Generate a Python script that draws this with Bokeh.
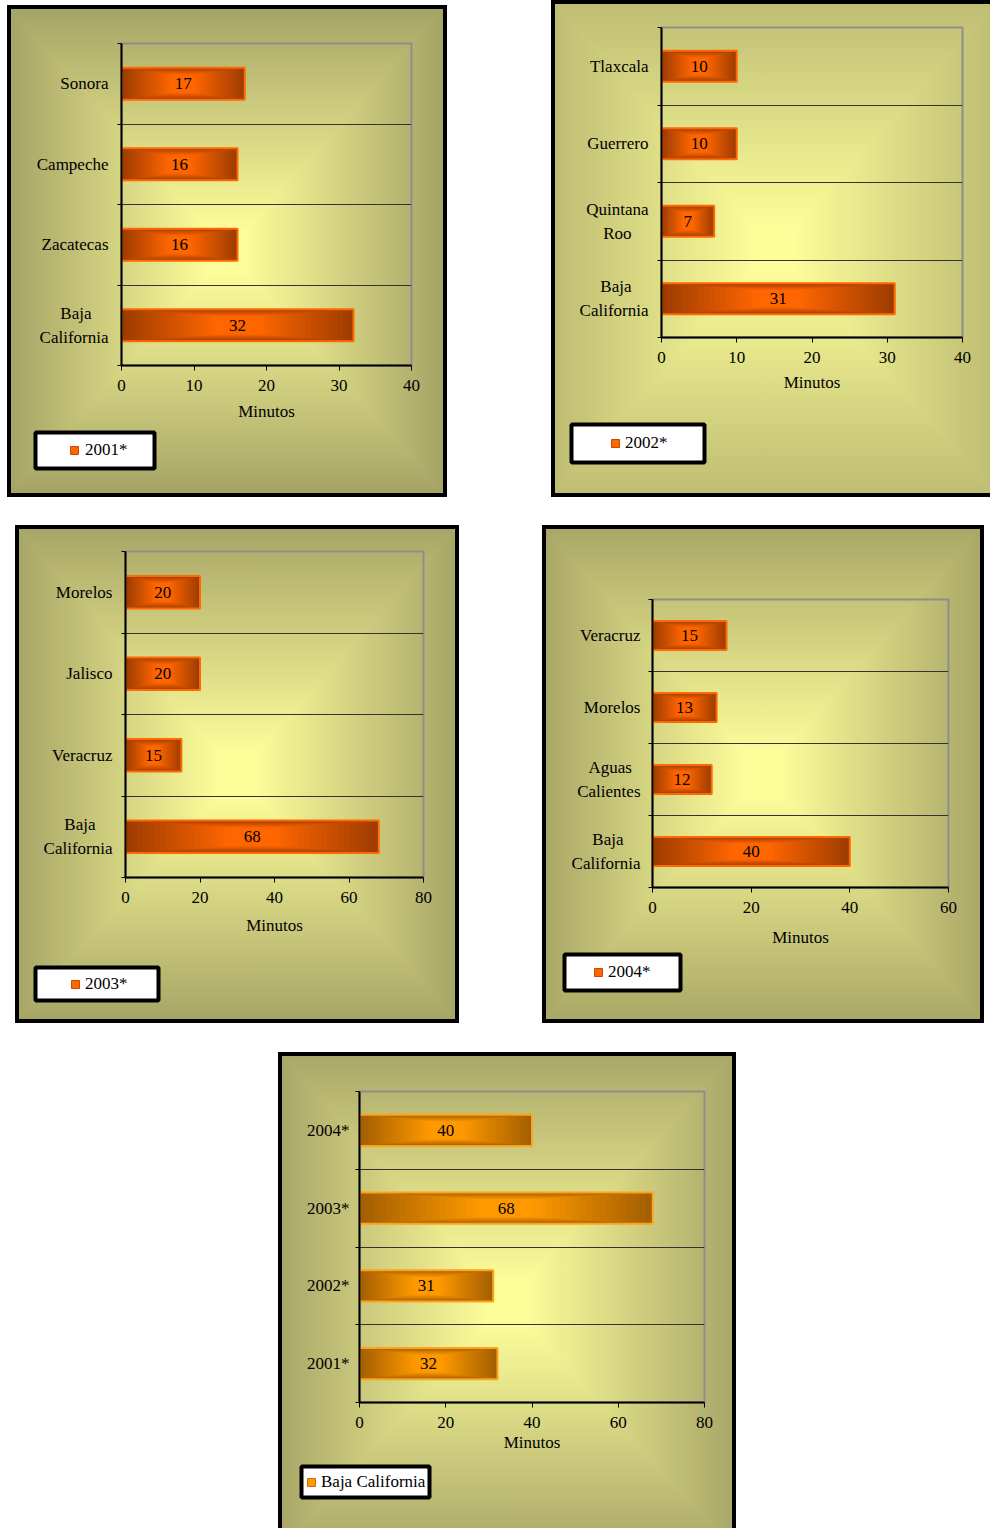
from urllib.parse import quote

import numpy as np
from bokeh.core.properties import value
from bokeh.embed import file_html
from bokeh.layouts import column, row
from bokeh.models import ColumnDataSource, FixedTicker, Legend, LegendItem, Range1d, Spacer
from bokeh.plotting import figure
from bokeh.resources import INLINE

# ---------------------------------------------------------------- data
estados_2001 = ["Sonora", "Campeche", "Zacatecas", "Baja California"]
minutos_2001 = [17, 16, 16, 32]

estados_2002 = ["Tlaxcala", "Guerrero", "Quintana Roo", "Baja California"]
minutos_2002 = [10, 10, 7, 31]

estados_2003 = ["Morelos", "Jalisco", "Veracruz", "Baja California"]
minutos_2003 = [20, 20, 15, 68]

estados_2004 = ["Veracruz", "Morelos", "Aguas Calientes", "Baja California"]
minutos_2004 = [15, 13, 12, 40]

anios_bc = ["2004*", "2003*", "2002*", "2001*"]
minutos_bc = [40, 68, 31, 32]

series = ["2001*", "2002*", "2003*", "2004*", "Baja California"]
eje_x = "Minutos"
escala_max = [40, 40, 80, 60, 80]
escala_paso = [10, 10, 20, 20, 20]

# ---------------------------------------------------------------- styling
FONT = "Liberation Serif"
FS = 17
NARANJA = dict(dark="#9E3C00", bright="#FF6600", edge="#FF6A00", mark_line="#C84A00")
AMBAR = dict(dark="#A35F00", bright="#FF9900", edge="#FFA31A", mark_line="#C87400")
CENTRO = "#FDFD9A"

# page placement of each panel: outer box, background size, plot frame,
# split line between chart and legend strip,
# legend box (l, t, r, b, marker centre, text start), axis-title gap, label gap
LAYOUT = [
    dict(box=(7, 5, 447, 497), bg=(440, 492), frame=(121, 43, 411, 365), cut=425,
         leg=(33, 430, 156, 470, 74, 85), gap_t=47, gap_y=13, edge="#A4A265", theme=NARANJA),
    dict(box=(551, 0, 990, 497), bg=(447, 497), frame=(661, 27, 962, 337), cut=415,
         leg=(569, 422, 706, 464, 614.5, 625), gap_t=46, gap_y=13, edge="#BDBC72", theme=NARANJA),
    dict(box=(15, 525, 459, 1023), bg=(444, 498), frame=(125, 551, 423, 877), cut=955,
         leg=(33, 965, 160, 1002, 75, 84), gap_t=49, gap_y=13, edge="#A6A466", theme=NARANJA),
    dict(box=(542, 525, 984, 1023), bg=(442, 498), frame=(652, 599, 948, 887), cut=949,
         leg=(562, 952, 682, 992, 598.5, 608), gap_t=51, gap_y=12, edge="#A8A666", theme=NARANJA),
    dict(box=(278, 1052, 736, 1528), bg=(458, 500), frame=(359, 1091, 704, 1402), cut=1458,
         leg=(299, 1464, 431, 1499, 310.5, 320), gap_t=41, gap_y=10, edge="#A8A668", theme=AMBAR),
]

# approximate advance widths (em) of the serif face, used to centre two-line labels
ADV = {"B": .667, "a": .444, "j": .278, "C": .667, "l": .278, "i": .278, "f": .333,
       "o": .5, "r": .333, "n": .5, "Q": .722, "u": .5, "t": .278, "R": .667,
       "A": .722, "g": .5, "s": .389, "e": .444}
NBSP = "\u00a0"


def hex_rgb(c):
    c = c.lstrip("#")
    return tuple(int(c[i:i + 2], 16) for i in (0, 2, 4))


def mix(a, b, t):
    ra, rb = hex_rgb(a), hex_rgb(b)
    return "#%02x%02x%02x" % tuple(round(x + (y - x) * t) for x, y in zip(ra, rb))


def panel_background(w, h, edge, center):
    """Rectangular centre-out gradient plus black frame, as an SVG data URI."""
    cx, cy = w / 2, h / 2
    stops = (f"<stop offset='0' stop-color='{center}'/>"
             f"<stop offset='0.08' stop-color='{center}'/>"
             f"<stop offset='1' stop-color='{edge}'/>")
    grads = {"t": (cx, cy, cx, 0), "b": (cx, cy, cx, h), "l": (cx, cy, 0, cy), "r": (cx, cy, w, cy)}
    defs = "".join(
        f"<linearGradient id='{k}' gradientUnits='userSpaceOnUse' x1='{a}' y1='{b}' x2='{c}' y2='{d}'>{stops}</linearGradient>"
        for k, (a, b, c, d) in grads.items())
    tris = {"t": f"0,0 {w},0 {cx},{cy}", "b": f"0,{h} {w},{h} {cx},{cy}",
            "l": f"0,0 0,{h} {cx},{cy}", "r": f"{w},0 {w},{h} {cx},{cy}"}
    polys = "".join(f"<polygon points='{pts}' fill='url(#{k})' stroke='url(#{k})' stroke-width='1'/>"
                    for k, pts in tris.items())
    frame = f"<rect x='2' y='2' width='{w - 4}' height='{h - 4}' fill='none' stroke='black' stroke-width='4'/>"
    svg = f"<svg xmlns='http://www.w3.org/2000/svg' width='{w}' height='{h}'><defs>{defs}</defs>{polys}{frame}</svg>"
    return f'url("data:image/svg+xml,{quote(svg)}")'


def bg_styles(cfg, dy):
    bw, bh = cfg["bg"]
    return {"background-image": panel_background(bw, bh, cfg["edge"], CENTRO),
            "background-repeat": "no-repeat",
            "background-size": f"{bw}px {bh}px",
            "background-position": f"0px {-dy}px"}


def two_lines(name):
    """Split a two-word name over two lines, padding the shorter one so both centre."""
    if " " not in name:
        return name
    a, b = name.split(" ", 1)
    wa = sum(ADV.get(ch, .5) for ch in a)
    wb = sum(ADV.get(ch, .5) for ch in b)
    k = round(abs(wb - wa) / 2 / 0.25)
    if wa < wb:
        a += NBSP * k
    else:
        b += NBSP * k
    return a + "\n" + b


def make_chart(cats, vals, xmax, step, cfg, multiline=True):
    L, T, R, B = cfg["box"]
    fl, ft, fr, fb = cfg["frame"]
    cut = cfg["cut"]
    theme = cfg["theme"]
    n = len(cats)

    p = figure(width=R - L, height=cut - T,
               x_range=Range1d(0, xmax), y_range=Range1d(0, n),
               output_backend="svg", toolbar_location=None,
               min_border_left=fl - L, min_border_right=R - fr,
               min_border_top=ft - T, min_border_bottom=cut - fb,
               border_fill_color=None, background_fill_color=None,
               styles=bg_styles(cfg, 0))
    p.outline_line_color = "#8E8E8E"
    p.outline_line_width = 2

    ys = [n - 0.5 - i for i in range(n)]

    # bars: concentric rectangles give a dark-rim / bright-core gradient
    H = 0.4
    levels = 22
    rows = dict(y=[], left=[], right=[], height=[], color=[])
    for k in range(levels):
        t = k / levels
        c = mix(theme["dark"], theme["bright"], min(1.0, t / 0.8))
        for y, v in zip(ys, vals):
            rows["y"].append(y)
            rows["left"].append(v * t / 2)
            rows["right"].append(v * (1 - t / 2))
            rows["height"].append(H * (1 - 0.55 * t))
            rows["color"].append(c)
    p.hbar(y="y", left="left", right="right", height="height", fill_color="color",
           line_color=None, source=ColumnDataSource(rows))
    p.hbar(y=ys, left=0, right=vals, height=H, fill_color=None,
           line_color=theme["edge"], line_width=2)

    # value labels inside the bars
    p.text(x=[v / 2 for v in vals], y=ys, text=[str(v) for v in vals],
           text_font=value(FONT), text_font_size=f"{FS}px", text_color="black",
           text_align="center", text_baseline="middle")

    # category axis: labels at band centres, ticks at band edges
    yax = p.yaxis[0]
    yax.ticker = FixedTicker(ticks=sorted(ys), minor_ticks=list(range(n + 1)))
    yax.major_label_overrides = {y: (two_lines(c) if multiline else c) for y, c in zip(ys, cats)}
    yax.major_tick_line_color = None
    yax.major_tick_out = 0
    yax.major_tick_in = 0
    yax.minor_tick_line_color = "black"
    yax.minor_tick_out = 4
    yax.minor_tick_in = 0
    yax.major_label_standoff = cfg["gap_y"] - 4
    yax.major_label_text_line_height = 1.25

    xax = p.xaxis[0]
    xax.ticker = FixedTicker(ticks=list(range(0, xmax + 1, step)), minor_ticks=[])
    xax.major_tick_line_color = "black"
    xax.major_tick_out = 5
    xax.major_tick_in = 0
    xax.minor_tick_line_color = None
    xax.major_label_standoff = 9
    xax.axis_label = eje_x
    xax.axis_label_standoff = cfg["gap_t"] - 39
    xax.axis_label_text_font = FONT
    xax.axis_label_text_font_size = f"{FS}px"
    xax.axis_label_text_font_style = "normal"
    xax.axis_label_text_color = "black"

    for ax in (xax, yax):
        ax.axis_line_color = "black"
        ax.axis_line_width = 2
        ax.major_label_text_font = FONT
        ax.major_label_text_font_size = f"{FS}px"
        ax.major_label_text_color = "black"

    p.xgrid.visible = False
    p.ygrid.ticker = FixedTicker(ticks=list(range(1, n)))
    p.ygrid.grid_line_color = "#333333"
    p.ygrid.grid_line_width = 1
    return p


def make_legend_strip(serie, cfg):
    """Lower strip of the panel; its framed white plot area holds the series legend."""
    L, T, R, B = cfg["box"]
    cut = cfg["cut"]
    theme = cfg["theme"]
    lL, lT, lR, lB, mc, ts = cfg["leg"]
    l, r, t, b = lL + 2, lR - 2, lT + 2, lB - 2

    q = figure(width=R - L, height=B - cut, x_range=Range1d(0, 1), y_range=Range1d(0, 1),
               x_axis_type=None, y_axis_type=None,
               output_backend="svg", toolbar_location=None,
               min_border_left=l - L, min_border_right=R - r,
               min_border_top=t - cut, min_border_bottom=B - b,
               border_fill_color=None, background_fill_color="white",
               outline_line_color="black", outline_line_width=4, outline_line_alpha=1.0,
               styles=bg_styles(cfg, cut - T))
    q.xgrid.visible = False
    q.ygrid.visible = False
    mk = q.scatter(x=np.array([np.nan]), y=np.array([np.nan]), marker="square",
                   fill_color=theme["bright"], line_color=theme["mark_line"], line_width=1)
    gw = gh = 20
    m = max(0, round(mc - l - gw / 2))
    s = max(0, round(ts - l - m - gw))
    legend = Legend(items=[LegendItem(label=serie, renderers=[mk])],
                    location="center_left", margin=m, padding=0, spacing=0,
                    border_line_color=None, background_fill_alpha=0.0,
                    glyph_width=gw, glyph_height=gh, label_standoff=s, label_height=gh,
                    label_text_font=FONT, label_text_font_size=f"{FS}px",
                    label_text_color="black")
    q.add_layout(legend)
    return q


def make_panel(cats, vals, serie, xmax, step, cfg, multiline=True):
    # each figure gets its own wrapper so their frames are laid out independently
    return column(row(make_chart(cats, vals, xmax, step, cfg, multiline)),
                  row(make_legend_strip(serie, cfg)))


f1 = make_panel(estados_2001, minutos_2001, series[0], escala_max[0], escala_paso[0], LAYOUT[0])
f2 = make_panel(estados_2002, minutos_2002, series[1], escala_max[1], escala_paso[1], LAYOUT[1])
f3 = make_panel(estados_2003, minutos_2003, series[2], escala_max[2], escala_paso[2], LAYOUT[2])
f4 = make_panel(estados_2004, minutos_2004, series[3], escala_max[3], escala_paso[3], LAYOUT[3])
f5 = make_panel(anios_bc, minutos_bc, series[4], escala_max[4], escala_paso[4], LAYOUT[4], multiline=False)

b1, b2, b3, b4, b5 = (c["box"] for c in LAYOUT)
page = column(
    row(Spacer(width=b1[0]), column(Spacer(height=b1[1]), f1),
        Spacer(width=b2[0] - b1[2]), f2),
    Spacer(height=b3[1] - max(b1[3], b2[3])),
    row(Spacer(width=b3[0]), f3, Spacer(width=b4[0] - b3[2]), f4),
    Spacer(height=b5[1] - max(b3[3], b4[3])),
    row(Spacer(width=b5[0]), f5),
)

with open("out.html", "w") as fh:
    fh.write(file_html(page, INLINE))
